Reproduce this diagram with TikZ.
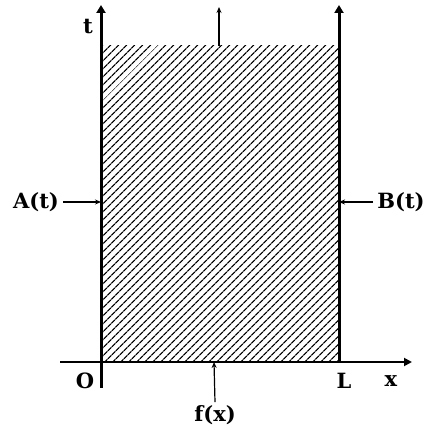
\documentclass[tikz,border=0pt]{standalone}
\usepackage{fontspec}
\setmainfont{DejaVu Serif}
\usetikzlibrary{arrows.meta,patterns.meta}

\begin{document}
\begin{tikzpicture}[
  x=1pt, y=1pt, >=Stealth,
  axis/.style={draw=black, line width=3pt},
  axisarr/.style={axis, -{Triangle[length=8pt, width=9pt]}},
  flux/.style={draw=black, line width=1.2pt, -{Stealth[length=6pt, width=5pt]}},
  lbl/.style={font=\fontsize{21}{23}\selectfont\bfseries, inner sep=1pt}
]
  \useasboundingbox (0,0) rectangle (427,431);

  % Hatched region
  \fill[pattern={Lines[angle=45, distance=5.4pt, line width=1.3pt]}] (101,69) rectangle (339,385);

  % Named points
  \coordinate (O) at (101,69);
  \coordinate (L) at (339,69);
  \coordinate (ttop) at (101,426);
  \coordinate (Ltop) at (339,426);
  \coordinate (tbot) at (101,43);
  \coordinate (xleft) at (60,69);
  \coordinate (xright) at (412,69);
  \coordinate (topmid) at (219,385);
  \coordinate (topend) at (219,424);
  \coordinate (Aend) at (101,229);
  \coordinate (Bend) at (339,229);
  \coordinate (fend) at (214,69);

  % Axes and boundary
  \draw[axisarr] (tbot) -- (ttop);
  \draw[axisarr] (L) -- (Ltop);
  \draw[line width=1.8pt, -{Triangle[length=8pt, width=8pt]}] (xleft) -- (xright);

  % Labels
  \node[lbl] (tlab) at (88,404) {t};
  \node[lbl] (Olab) at (85,50) {O};
  \node[lbl] (Llab) at (344,50) {L};
  \node[lbl] (xlab) at (391,50) {x};
  \node[lbl] (Alab) at (36,229) {A(t)};
  \node[lbl] (Blab) at (401,229) {B(t)};
  \node[lbl] (flab) at (215,16) {f(x)};

  % Boundary data arrows
  \draw[flux] (topmid) -- (topend);
  \draw[flux] (Alab.east) ++(3,0) coordinate (Astart) (Astart) -- (Aend);
  \draw[flux] (Blab.west) ++(-3,0) coordinate (Bstart) (Bstart) -- (Bend);
  \draw[flux] (flab.north) ++(0,2) coordinate (fstart) (fstart) -- (fend);

\end{tikzpicture}
\end{document}
